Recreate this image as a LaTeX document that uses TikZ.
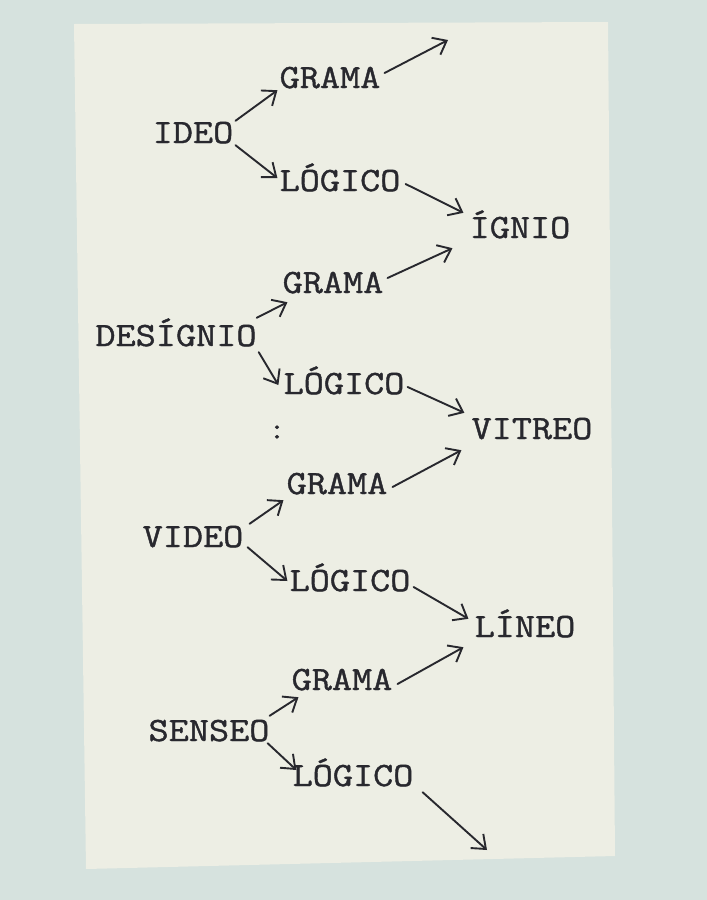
\documentclass[tikz,border=0pt]{standalone}
\usepackage{fontspec}
\setmonofont{Latin Modern Mono}[FakeBold=1.2, FakeStretch=1.15]
\usetikzlibrary{arrows.meta}
\definecolor{bgcol}{RGB}{214,226,222}
\definecolor{papercol}{RGB}{237,238,228}
\definecolor{inkcol}{RGB}{40,40,46}
\tikzset{
  word/.style={font=\ttfamily\fontsize{34}{34}\selectfont, text=inkcol,
    inner sep=2pt, text height=20pt, text depth=0pt, anchor=center},
  arr/.style={draw=inkcol, line width=1.9pt, line cap=round,
    -{Straight Barb[length=12pt,width=19pt,line width=1.9pt]}}
}
\begin{document}
\begin{tikzpicture}[x=1pt,y=-1pt]
\fill[bgcol] (0,0) rectangle (707,900);
\useasboundingbox (0,0) rectangle (707,900);
\fill[papercol] (74,24) -- (608,22) -- (615,856) -- (86,869) -- cycle;

\node[word] (ideo) at (193,133) {IDEO};
\node[word] (g1) at (330,78) {GRAMA};
\node[word] (l1) at (340,181) {LÓGICO};
\node[word] (ignio) at (520,228) {ÍGNIO};
\node[word] (g2) at (333,283) {GRAMA};
\node[word] (desig) at (176,336) {DESÍGNIO};
\node[word] (l2) at (344,384) {LÓGICO};
\node[word] (vitreo) at (532,429) {VITREO};
\node[word] (g3) at (337,484) {GRAMA};
\node[word] (video) at (193,537) {VIDEO};
\node[word] (l3) at (350,581) {LÓGICO};
\node[word] (lineo) at (525,627) {LÍNEO};
\node[word] (g4) at (342,680) {GRAMA};
\node[word] (senseo) at (209,731) {SENSEO};
\node[word] (l4) at (353,776) {LÓGICO};
\node[font=\ttfamily\fontsize{30}{30}\selectfont, text=inkcol, inner sep=0pt] (colon) at (277,432) {:};

\coordinate (top) at (448,40);
\coordinate (bot) at (487,850);

\draw[arr] (ideo.north east) -- (g1.south west);
\draw[arr] (ideo.south east) -- ([shift={(0,-3)}]l1.west);
\draw[arr] ([shift={(2,-5)}]g1.east) -- (top);
\draw[arr] ([shift={(3,3)}]l1.east) -- ([shift={(-4,-3)}]ignio.north west);
\draw[arr] ([shift={(2,-5)}]g2.east) -- ([shift={(-15,8)}]ignio.south west);
\draw[arr] ([shift={(-2,-6)}]desig.north east) -- ([shift={(7,7)}]g2.south west);
\draw[arr] ([shift={(0,4)}]desig.south east) -- ([shift={(-3,1)}]l2.west);
\draw[arr] ([shift={(1,3)}]l2.east) -- ([shift={(-5,-4)}]vitreo.north west);
\draw[arr] ([shift={(3,3)}]g3.east) -- ([shift={(-8,9)}]vitreo.south west);
\draw[arr] ([shift={(4,-1)}]video.north east) -- ([shift={(-1,4)}]g3.south west);
\draw[arr] ([shift={(2,-2)}]video.south east) -- (l3.west);
\draw[arr] ([shift={(1,6)}]l3.east) -- ([shift={(-4,4)}]lineo.north west);
\draw[arr] ([shift={(3,4)}]g4.east) -- ([shift={(-9,8)}]lineo.south west);
\draw[arr] ([shift={(-2,-3)}]senseo.north east) -- ([shift={(9,5)}]g4.south west);
\draw[arr] ([shift={(-4,0)}]senseo.south east) -- ([shift={(6,-6)}]l4.west);
\draw[arr] ([shift={(7,4)}]l4.south east) -- (bot);
\end{tikzpicture}
\end{document}
